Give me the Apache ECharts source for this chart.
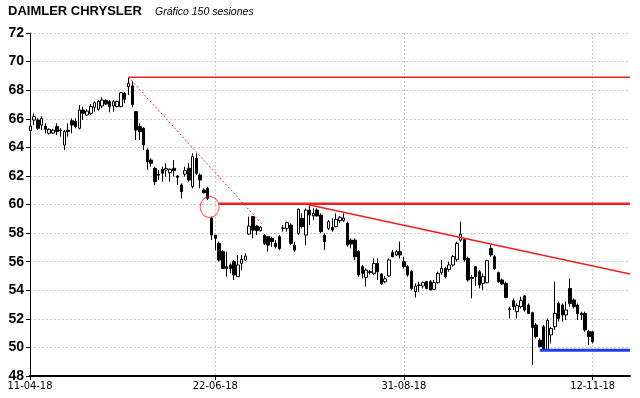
<!DOCTYPE html>
<html>
<head>
<meta charset="utf-8">
<title>Daimler Chrysler</title>
<script src="https://cdn.jsdelivr.net/npm/echarts@6/dist/echarts.min.js"></script>
<style>
  html, body { margin: 0; padding: 0; background: #fff; }
  #chart { width: 640px; height: 398px; }
</style>
</head>
<body>
<div id="chart"></div>
<script>
// sesiones 1..150, cada fila: [apertura, cierre, minimo, maximo]
const firstSession = 1;
const ohlc = [
  [65.17, 65.49, 64.98, 65.68], [65.91, 66.15, 65.56, 66.38], [65.91, 65.33, 65.21, 66.03], [65.56, 66.03, 65.21, 66.19],
  [65.49, 65.26, 64.98, 65.68], [64.98, 65.26, 64.90, 65.33], [65.00, 65.20, 64.95, 65.30], [65.45, 65.10, 64.86, 65.68],
  [65.20, 65.15, 64.75, 65.33], [64.16, 65.10, 63.81, 65.21], [65.20, 65.10, 64.75, 65.68], [65.86, 65.56, 64.98, 66.03],
  [65.80, 65.45, 65.33, 66.03], [65.33, 66.61, 65.26, 66.96], [66.61, 66.38, 65.91, 66.85], [66.26, 66.54, 66.19, 66.66],
  [66.38, 66.85, 66.26, 67.03], [66.80, 67.12, 66.50, 67.20], [66.66, 67.22, 66.57, 67.31], [66.89, 67.31, 66.73, 67.50],
  [67.27, 67.03, 66.96, 67.36], [67.20, 66.85, 66.45, 67.31], [66.89, 67.20, 66.50, 67.31], [66.85, 67.20, 66.80, 67.27],
  [66.85, 67.82, 66.80, 67.87], [67.78, 67.36, 67.08, 67.87], [68.24, 68.48, 67.66, 68.90], [68.30, 67.00, 66.80, 68.60],
  [66.50, 65.21, 64.51, 66.50], [65.45, 65.10, 64.51, 65.68], [65.33, 64.16, 63.81, 65.40], [63.81, 62.99, 62.41, 63.93],
  [63.11, 62.88, 62.65, 63.23], [62.53, 61.60, 61.36, 62.65], [62.10, 62.05, 61.71, 62.41], [62.46, 62.18, 61.60, 62.65],
  [62.41, 62.53, 61.95, 62.88], [62.23, 62.46, 61.60, 62.53], [62.53, 62.37, 61.95, 63.11], [61.99, 61.90, 61.36, 62.06],
  [61.36, 60.90, 60.43, 61.48], [62.13, 62.37, 61.95, 62.65], [62.53, 61.71, 61.60, 62.90], [61.25, 63.35, 61.13, 63.58],
  [63.23, 62.18, 62.06, 63.58], [62.06, 61.71, 61.13, 62.18], [61.01, 60.83, 60.78, 61.13], [61.13, 60.43, 60.31, 61.25],
  [59.03, 57.86, 57.51, 59.15], [57.86, 57.63, 56.81, 57.86], [57.28, 56.11, 56.00, 57.40], [56.70, 55.53, 55.53, 56.81],
  [55.65, 55.53, 54.95, 56.70], [55.77, 55.53, 55.18, 55.88], [56.00, 55.07, 54.72, 56.11], [54.95, 55.77, 54.95, 56.46],
  [55.88, 56.16, 55.41, 56.46], [56.11, 56.39, 56.07, 56.58], [57.93, 58.49, 57.86, 59.15], [59.15, 58.21, 57.63, 59.20],
  [58.49, 58.17, 57.86, 58.56], [58.17, 58.40, 58.10, 58.49], [57.86, 57.28, 57.16, 57.91], [57.75, 57.16, 56.70, 57.75],
  [57.63, 57.40, 57.05, 57.75], [57.28, 57.05, 56.93, 57.51], [57.75, 56.93, 56.81, 57.86], [58.35, 58.33, 58.10, 58.56],
  [58.33, 58.73, 58.10, 58.80], [58.56, 57.28, 57.16, 58.68], [57.16, 56.81, 56.70, 57.40], [57.98, 59.66, 57.86, 59.73],
  [59.03, 58.45, 58.33, 59.38], [57.86, 59.61, 57.16, 59.73], [59.61, 59.26, 58.56, 59.96], [59.20, 59.38, 58.91, 59.73],
  [59.61, 59.20, 59.15, 59.73], [59.26, 58.10, 57.98, 59.38], [57.86, 57.40, 56.81, 57.98], [58.33, 58.80, 58.21, 58.91],
  [58.40, 58.21, 58.10, 59.03], [58.45, 58.96, 58.40, 59.38], [58.87, 59.10, 58.70, 59.20], [58.87, 59.05, 58.80, 59.38],
  [58.68, 57.16, 57.05, 58.80], [57.51, 57.23, 56.93, 57.63], [57.51, 56.35, 56.11, 57.63], [56.70, 55.07, 54.95, 56.81],
  [55.65, 55.18, 54.83, 55.77], [54.90, 55.41, 54.25, 55.53], [55.24, 55.30, 55.10, 55.41], [55.18, 55.88, 55.07, 56.23],
  [55.88, 55.30, 54.72, 56.23], [55.14, 54.44, 54.37, 55.18], [54.60, 54.80, 54.48, 55.00], [55.00, 56.12, 54.95, 56.23],
  [56.63, 56.35, 56.30, 56.82], [56.47, 56.70, 56.40, 56.80], [56.70, 56.47, 56.23, 57.40], [56.00, 55.65, 55.53, 56.35],
  [55.65, 55.07, 54.95, 55.77], [55.30, 54.13, 54.02, 55.42], [53.90, 54.30, 53.50, 54.48], [54.37, 54.35, 53.90, 54.60],
  [54.30, 54.53, 54.13, 54.60], [54.60, 54.13, 54.06, 54.67], [54.60, 54.02, 54.02, 54.72], [54.06, 54.53, 54.02, 54.72],
  [54.53, 55.18, 54.48, 55.30], [55.23, 55.53, 55.07, 56.12], [55.53, 54.95, 54.83, 55.65], [55.46, 55.77, 55.30, 56.00],
  [55.77, 56.35, 55.65, 56.47], [56.16, 57.28, 56.00, 57.40], [57.50, 57.93, 57.40, 58.80], [57.56, 56.12, 56.00, 57.63],
  [56.23, 54.72, 54.60, 56.35], [54.90, 54.83, 53.43, 55.07], [55.65, 54.95, 54.30, 55.70], [55.30, 54.37, 54.13, 55.42],
  [54.48, 54.95, 54.02, 55.18], [54.53, 56.07, 54.48, 56.12], [56.93, 56.47, 56.35, 57.16], [56.35, 55.53, 55.42, 56.47],
  [55.23, 54.60, 54.53, 55.30], [54.72, 54.44, 54.37, 54.83], [54.48, 53.50, 53.43, 54.60], [52.70, 52.65, 52.03, 52.85],
  [53.27, 52.85, 52.62, 53.43], [52.50, 52.92, 52.03, 53.08], [52.85, 53.27, 52.73, 53.55], [53.60, 52.62, 52.50, 53.67],
  [52.97, 52.38, 52.34, 53.08], [52.43, 51.40, 48.77, 52.50], [51.57, 50.75, 50.63, 51.70], [50.51, 50.05, 50.00, 50.63],
  [51.45, 49.82, 49.82, 51.57], [49.82, 51.90, 49.82, 52.03], [50.87, 51.33, 50.28, 51.45], [51.45, 52.38, 51.22, 54.60],
  [53.08, 52.03, 51.80, 53.20], [52.97, 52.27, 51.80, 53.08], [52.27, 52.62, 51.92, 53.20], [54.13, 53.08, 52.85, 54.83],
  [53.32, 52.85, 52.73, 53.43], [52.97, 52.38, 51.92, 53.08], [52.38, 52.27, 51.92, 52.50], [52.38, 51.22, 51.10, 52.50],
  [51.10, 50.75, 50.16, 51.22], [51.10, 50.40, 50.28, 51.10]
];

const xTickSessions = [0.9, 50, 100, 150];
const xTickLabels = ['11-04-18', '22-06-18', '31-08-18', '12-11-18'];

// lineas trazadas encima: [sesion, precio]
const resistanceTop = [[27, 68.9], [159.9, 68.9]];
const fallLine = [[27, 68.9], [62.6, 58.56]];
const support60 = [[51, 60.05], [159.9, 60.05]];
const downTrend = [[75, 59.96], [159.9, 55.13]];
const support50 = [[136, 49.8], [159.9, 49.8]];
const breakMark = [[48.5, 59.82]];

const candleData = ohlc.map((r, k) => [firstSession + k].concat(r));

function overlay(data, color, width, type) {
  return {
    type: 'line',
    data: data,
    symbol: 'none',
    silent: true,
    z: 3,
    lineStyle: { color: color, width: width, type: type || 'solid' }
  };
}

const gridLine = { show: true, lineStyle: { color: '#d2caca', width: 1, type: [2, 2] } };

let myChart = echarts.init(document.getElementById('chart'), null, { renderer: 'canvas' });

myChart.setOption({
  animation: false,
  backgroundColor: '#fff',
  title: [
    { text: 'DAIMLER CHRYSLER', left: 8, top: 5, padding: 0,
      textStyle: { fontFamily: 'Liberation Sans', fontSize: 13, fontWeight: 'bold', color: '#000' } },
    { text: 'Gráfico 150 sesiones', left: 155, top: 7, padding: 0,
      textStyle: { fontFamily: 'Liberation Sans', fontSize: 10.5, fontStyle: 'italic', fontWeight: 'normal', color: '#000' } }
  ],
  grid: { left: 30, right: 10, top: 33, bottom: 22 },
  xAxis: {
    type: 'value',
    min: 0.9,
    max: 159.9,
    axisLine: { show: true, lineStyle: { color: '#000', width: 2 } },
    axisTick: { show: true, customValues: xTickSessions, length: 4, lineStyle: { color: '#000' } },
    axisLabel: {
      customValues: xTickSessions,
      formatter: function (v) {
        const k = xTickSessions.findIndex(s => Math.abs(s - v) < 0.01);
        return k >= 0 ? xTickLabels[k] : '';
      },
      fontFamily: 'DejaVu Sans Condensed', fontSize: 11, color: '#000', margin: 5
    },
    splitLine: gridLine
  },
  yAxis: {
    type: 'value',
    min: 48,
    max: 72,
    interval: 2,
    axisLine: { show: true, lineStyle: { color: '#000', width: 1 } },
    axisTick: { show: true, length: 4, lineStyle: { color: '#000' } },
    axisLabel: { fontFamily: 'Liberation Sans', fontSize: 14, fontWeight: 'bold', color: '#000', margin: 6 },
    splitLine: gridLine
  },
  series: [
    {
      type: 'candlestick',
      data: candleData,
      encode: { x: 0, y: [1, 2, 3, 4] },
      barWidth: 3,
      z: 2,
      itemStyle: { color: '#fff', color0: '#000', borderColor: '#000', borderColor0: '#000', borderWidth: 1 }
    },
    overlay(resistanceTop, '#f02020', 1.5),
    overlay(fallLine, '#f03030', 1, [2, 2]),
    overlay(support60, '#f02020', 2.5),
    overlay(downTrend, '#f02020', 1.5),
    overlay(support50, '#1f3cf0', 3),
    {
      type: 'scatter',
      data: breakMark,
      symbol: 'circle',
      symbolSize: [19, 21],
      silent: true,
      z: 3,
      itemStyle: { color: 'rgba(0,0,0,0)', borderColor: '#f03030', borderWidth: 1 }
    }
  ]
});
</script>
</body>
</html>
